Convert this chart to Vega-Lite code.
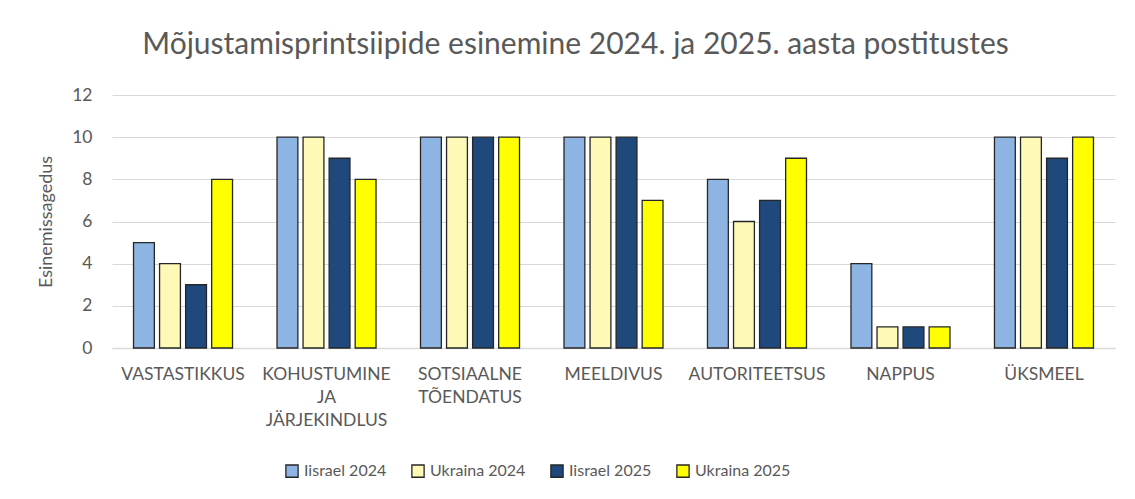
{
  "$schema": "https://vega.github.io/schema/vega-lite/v6.json",
  "width": 1003,
  "height": 253,
  "autosize": {"type": "none"},
  "padding": {"left": 112, "top": 95, "right": 20, "bottom": 151},
  "background": "white",
  "title": {
    "text": "Mõjustamisprintsiipide esinemine 2024. ja 2025. aasta postitustes",
    "font": "Lato",
    "fontSize": 30,
    "fontWeight": "normal",
    "color": "#595959",
    "anchor": "middle",
    "dx": -38,
    "offset": 26
  },
  "data": {
    "values": [
      {"kategooria": "VASTASTIKKUS", "seeria": "Iisrael 2024", "vaartus": 5},
      {"kategooria": "VASTASTIKKUS", "seeria": "Ukraina 2024", "vaartus": 4},
      {"kategooria": "VASTASTIKKUS", "seeria": "Iisrael 2025", "vaartus": 3},
      {"kategooria": "VASTASTIKKUS", "seeria": "Ukraina 2025", "vaartus": 8},
      {"kategooria": "KOHUSTUMINE JA JÄRJEKINDLUS", "seeria": "Iisrael 2024", "vaartus": 10},
      {"kategooria": "KOHUSTUMINE JA JÄRJEKINDLUS", "seeria": "Ukraina 2024", "vaartus": 10},
      {"kategooria": "KOHUSTUMINE JA JÄRJEKINDLUS", "seeria": "Iisrael 2025", "vaartus": 9},
      {"kategooria": "KOHUSTUMINE JA JÄRJEKINDLUS", "seeria": "Ukraina 2025", "vaartus": 8},
      {"kategooria": "SOTSIAALNE TÕENDATUS", "seeria": "Iisrael 2024", "vaartus": 10},
      {"kategooria": "SOTSIAALNE TÕENDATUS", "seeria": "Ukraina 2024", "vaartus": 10},
      {"kategooria": "SOTSIAALNE TÕENDATUS", "seeria": "Iisrael 2025", "vaartus": 10},
      {"kategooria": "SOTSIAALNE TÕENDATUS", "seeria": "Ukraina 2025", "vaartus": 10},
      {"kategooria": "MEELDIVUS", "seeria": "Iisrael 2024", "vaartus": 10},
      {"kategooria": "MEELDIVUS", "seeria": "Ukraina 2024", "vaartus": 10},
      {"kategooria": "MEELDIVUS", "seeria": "Iisrael 2025", "vaartus": 10},
      {"kategooria": "MEELDIVUS", "seeria": "Ukraina 2025", "vaartus": 7},
      {"kategooria": "AUTORITEETSUS", "seeria": "Iisrael 2024", "vaartus": 8},
      {"kategooria": "AUTORITEETSUS", "seeria": "Ukraina 2024", "vaartus": 6},
      {"kategooria": "AUTORITEETSUS", "seeria": "Iisrael 2025", "vaartus": 7},
      {"kategooria": "AUTORITEETSUS", "seeria": "Ukraina 2025", "vaartus": 9},
      {"kategooria": "NAPPUS", "seeria": "Iisrael 2024", "vaartus": 4},
      {"kategooria": "NAPPUS", "seeria": "Ukraina 2024", "vaartus": 1},
      {"kategooria": "NAPPUS", "seeria": "Iisrael 2025", "vaartus": 1},
      {"kategooria": "NAPPUS", "seeria": "Ukraina 2025", "vaartus": 1},
      {"kategooria": "ÜKSMEEL", "seeria": "Iisrael 2024", "vaartus": 10},
      {"kategooria": "ÜKSMEEL", "seeria": "Ukraina 2024", "vaartus": 10},
      {"kategooria": "ÜKSMEEL", "seeria": "Iisrael 2025", "vaartus": 9},
      {"kategooria": "ÜKSMEEL", "seeria": "Ukraina 2025", "vaartus": 10}
    ]
  },
  "mark": {"type": "bar", "stroke": "#262626", "strokeWidth": 1.3},
  "encoding": {
    "x": {
      "field": "kategooria",
      "type": "nominal",
      "sort": null,
      "scale": {"paddingInner": 0.31, "paddingOuter": 0.15},
      "axis": {
        "title": null,
        "labelAngle": 0,
        "labelExpr": "split(datum.label, ' ')",
        "labelFont": "Lato",
        "labelFontSize": 17.5,
        "labelColor": "#595959",
        "labelLineHeight": 23,
        "labelPadding": 17,
        "ticks": false,
        "domainColor": "#d9d9d9",
        "domainWidth": 1.5,
        "grid": false
      }
    },
    "xOffset": {
      "field": "seeria",
      "type": "nominal",
      "sort": ["Iisrael 2024", "Ukraina 2024", "Iisrael 2025", "Ukraina 2025"],
      "scale": {"paddingInner": 0.2, "paddingOuter": 0}
    },
    "y": {
      "field": "vaartus",
      "type": "quantitative",
      "scale": {"domain": [0, 12]},
      "axis": {
        "title": "Esinemissagedus",
        "titleFont": "Lato",
        "titleFontSize": 18,
        "titleFontWeight": "normal",
        "titleColor": "#595959",
        "titlePadding": 16,
        "values": [0, 2, 4, 6, 8, 10, 12],
        "labelFont": "Lato",
        "labelFontSize": 17.5,
        "labelColor": "#595959",
        "labelPadding": 20,
        "ticks": false,
        "domain": false,
        "gridColor": "#d9d9d9",
        "gridWidth": 1.2
      }
    },
    "color": {
      "field": "seeria",
      "type": "nominal",
      "sort": ["Iisrael 2024", "Ukraina 2024", "Iisrael 2025", "Ukraina 2025"],
      "scale": {
        "domain": ["Iisrael 2024", "Ukraina 2024", "Iisrael 2025", "Ukraina 2025"],
        "range": ["#8EB4E3", "#FFF9B7", "#1F497D", "#FFFF00"]
      },
      "legend": {
        "title": null,
        "orient": "none",
        "direction": "horizontal",
        "legendX": 172,
        "legendY": 368,
        "symbolType": "square",
        "symbolSize": 150,
        "symbolStrokeColor": "#262626",
        "symbolStrokeWidth": 1.3,
        "labelFont": "Lato",
        "labelFontSize": 16,
        "labelColor": "#595959",
        "labelOffset": 4,
        "columnPadding": 22
      }
    }
  },
  "config": {"view": {"stroke": null}}
}
